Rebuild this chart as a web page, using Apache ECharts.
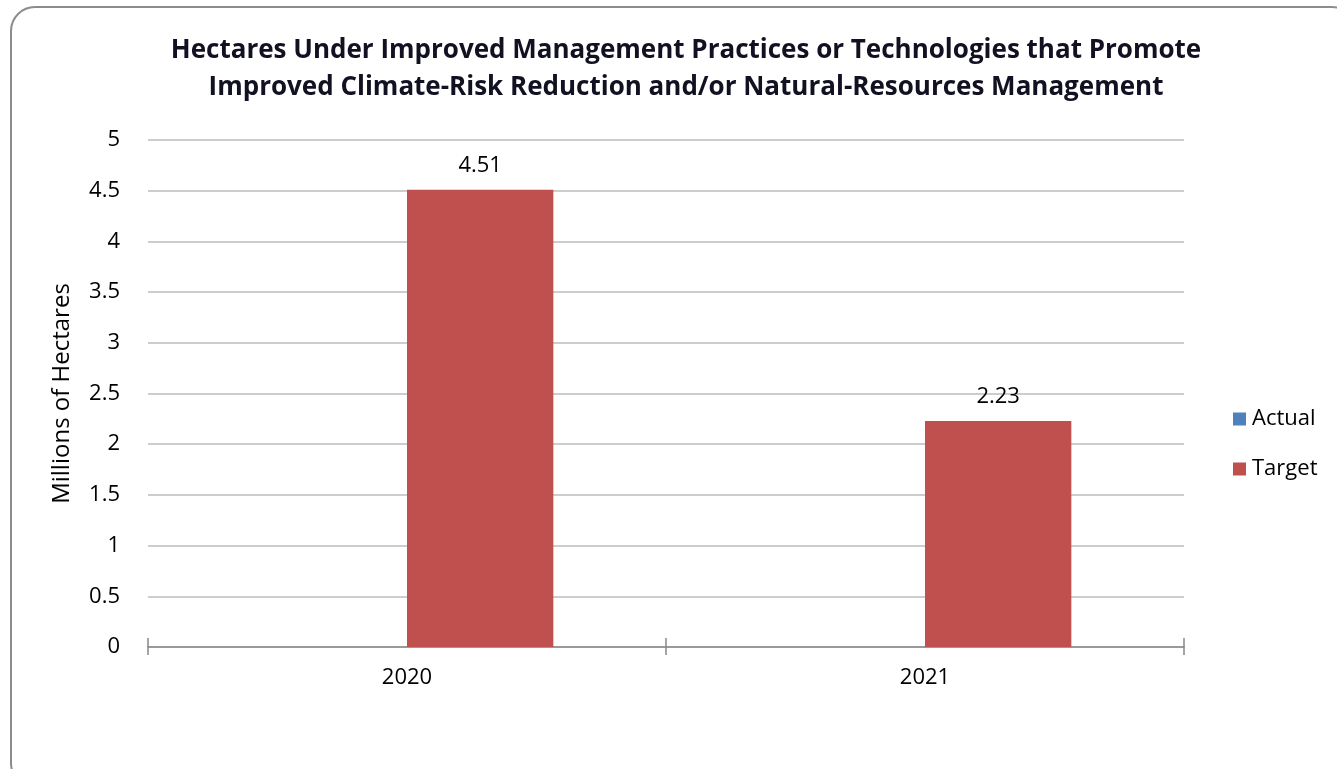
<!DOCTYPE html>
<html>
<head>
<meta charset="utf-8">
<script src="https://cdn.jsdelivr.net/npm/echarts@6/dist/echarts.min.js"></script>
<style>
  html, body { margin: 0; padding: 0; background: #fff; }
  #chart { width: 1337px; height: 769px; }
</style>
</head>
<body>
<div id="chart"></div>
<script>
const years = ['2020', '2021']
const actual = [null, null]
const target = [4.51, 2.23]
const yTicks = [0, 0.5, 1, 1.5, 2, 2.5, 3, 3.5, 4, 4.5, 5]

const chart = echarts.init(document.getElementById('chart'))
chart.setOption({
  animation: false,
  textStyle: { fontFamily: 'Open Sans' },
  title: {
    text: 'Hectares Under Improved Management Practices or Technologies that Promote\nImproved Climate-Risk Reduction and/or Natural-Resources Management',
    left: 681,
    textAlign: 'center',
    top: 27,
    textStyle: {
      fontSize: 26,
      fontWeight: 'bold',
      color: '#111122',
      lineHeight: 37
    }
  },
  graphic: [{
    type: 'rect',
    shape: { x: 11, y: 7, width: 1345, height: 780, r: 24 },
    style: { fill: 'none', stroke: '#8c8c8c', lineWidth: 2 },
    silent: true
  }],
  legend: {
    orient: 'vertical',
    left: 1228,
    top: 402,
    itemGap: 26,
    itemWidth: 13,
    itemHeight: 13,
    icon: 'rect',
    textStyle: { fontSize: 22, lineHeight: 24, color: '#000', padding: [0, 0, 0, 1] },
    data: ['Actual', 'Target']
  },
  grid: {
    left: 148,
    right: 153,
    top: 140,
    bottom: 122,
    containLabel: false
  },
  xAxis: [{
    type: 'category',
    data: years,
    axisLine: { lineStyle: { color: '#888', width: 1.5 } },
    axisTick: { show: true, length: 8, lineStyle: { color: '#888', width: 1.5 } },
    axisLabel: { fontSize: 22, color: '#000', margin: 20 }
  }, {
    // inward half of the crossing ticks
    type: 'category',
    data: years,
    position: 'bottom',
    axisLine: { show: false },
    axisTick: { show: true, inside: true, length: 9, lineStyle: { color: '#888', width: 1.5 } },
    axisLabel: { show: false },
    splitLine: { show: false }
  }],
  yAxis: {
    type: 'value',
    min: yTicks[0],
    max: yTicks[yTicks.length - 1],
    interval: 0.5,
    name: 'Millions of Hectares',
    nameLocation: 'middle',
    nameGap: 74,
    nameTextStyle: { fontSize: 24, color: '#000' },
    axisLine: { show: false },
    axisTick: { show: false },
    axisLabel: { fontSize: 22, color: '#000', margin: 28 },
    splitLine: { lineStyle: { color: '#bcbcbc', width: 1.5 } }
  },
  series: [{
    name: 'Actual',
    type: 'bar',
    data: actual,
    barGap: 0,
    barCategoryGap: '43.5%',
    itemStyle: { color: '#4F81BD' }
  }, {
    name: 'Target',
    type: 'bar',
    data: target,
    barGap: 0,
    barCategoryGap: '43.5%',
    itemStyle: { color: '#C0504D' },
    label: {
      show: true,
      position: 'top',
      distance: 13,
      fontSize: 22,
      color: '#000'
    }
  }]
})
</script>
</body>
</html>
